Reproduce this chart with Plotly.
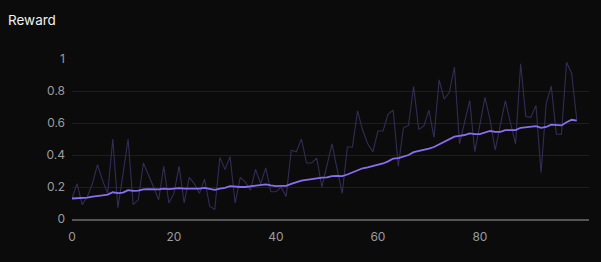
import plotly.graph_objects as go

steps = list(range(100))

reward_raw = [
    0.13, 0.22, 0.09, 0.14, 0.22, 0.34, 0.24, 0.16, 0.50, 0.07,
    0.28, 0.50, 0.09, 0.12, 0.35, 0.28, 0.20, 0.12, 0.33, 0.10,
    0.16, 0.33, 0.10, 0.26, 0.22, 0.16, 0.25, 0.08, 0.06, 0.385,
    0.31, 0.39, 0.10, 0.26, 0.23, 0.18, 0.31, 0.22, 0.32, 0.17,
    0.17, 0.20, 0.14, 0.43, 0.42, 0.50, 0.35, 0.35, 0.38, 0.20,
    0.33, 0.47, 0.31, 0.16, 0.45, 0.45, 0.675, 0.556, 0.47, 0.42,
    0.55, 0.55, 0.656, 0.68, 0.33, 0.57, 0.585, 0.83, 0.56, 0.58,
    0.68, 0.51, 0.87, 0.75, 0.79, 0.95, 0.47, 0.60, 0.74, 0.42,
    0.60, 0.76, 0.62, 0.43, 0.585, 0.74, 0.60, 0.47, 0.97, 0.64,
    0.635, 0.71, 0.29, 0.72, 0.83, 0.53, 0.53, 0.98, 0.91, 0.62,
]

reward_smooth = [
    0.128, 0.13, 0.13, 0.133, 0.14, 0.146, 0.148, 0.152, 0.167, 0.162,
    0.165, 0.18, 0.176, 0.177, 0.185, 0.187, 0.185, 0.185, 0.19, 0.187,
    0.19, 0.193, 0.19, 0.19, 0.19, 0.19, 0.195, 0.188, 0.182, 0.19,
    0.195, 0.206, 0.202, 0.2, 0.2, 0.203, 0.208, 0.21, 0.216, 0.21,
    0.206, 0.207, 0.207, 0.22, 0.23, 0.24, 0.245, 0.25, 0.255, 0.258,
    0.26, 0.268, 0.27, 0.268, 0.278, 0.29, 0.305, 0.317, 0.322, 0.33,
    0.34, 0.347, 0.36, 0.378, 0.38, 0.39, 0.4, 0.418, 0.425, 0.43,
    0.44, 0.45, 0.465, 0.48, 0.495, 0.515, 0.52, 0.525, 0.535, 0.53,
    0.53, 0.54, 0.55, 0.545, 0.545, 0.556, 0.556, 0.556, 0.57, 0.572,
    0.575, 0.58, 0.57, 0.575, 0.59, 0.587, 0.585, 0.605, 0.62, 0.615,
]

x_ticks = [0, 20, 40, 60, 80]
y_ticks = [0, 0.2, 0.4, 0.6, 0.8, 1]
y_tick_labels = ["0", "0.2", "0.4", "0.6", "0.8", "1"]

fig = go.Figure()
fig.add_trace(go.Scatter(
    x=steps, y=reward_raw, mode="lines",
    line=dict(color="#322d55", width=1.1),
    hoverinfo="skip", showlegend=False,
))
fig.add_trace(go.Scatter(
    x=steps, y=reward_smooth, mode="lines",
    line=dict(color="#8a6ef2", width=1.8),
    showlegend=False,
))

fig.update_layout(
    width=601, height=262,
    margin=dict(l=72, r=12, t=59, b=43),
    paper_bgcolor="#0b0b0b", plot_bgcolor="#0b0b0b",
    font=dict(family="Inter, Roboto, sans-serif", color="#9c9c9c", size=12),
    title=dict(text="Reward", x=8 / 601, xanchor="left", xref="container",
               y=1 - 20 / 262, yanchor="middle", yref="container",
               font=dict(color="#f0f0f0", size=13.5)),
    xaxis=dict(range=[0, 101.4], tickvals=x_ticks, showgrid=False,
               zeroline=False, showline=True, linecolor="#555555",
               linewidth=2, ticks="", ticklabelstandoff=6,
               tickfont=dict(color="#9c9c9c")),
    yaxis=dict(range=[0, 1], tickvals=y_ticks, ticktext=y_tick_labels,
               showgrid=True, gridcolor="#1e1e1e", gridwidth=1,
               zeroline=False, showline=False, ticks="",
               ticklabelstandoff=6, tickfont=dict(color="#9c9c9c")),
)

fig.write_html("out.html")
